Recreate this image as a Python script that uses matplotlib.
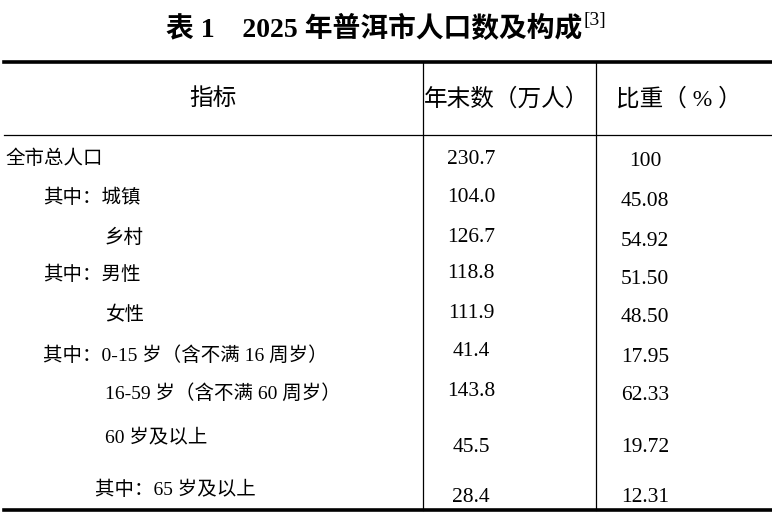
import matplotlib.pyplot as plt

plt.rcParams['font.family'] = ['Liberation Serif', 'Noto Sans CJK SC']

# table data
labels = ['全市总人口', '其中：城镇', '乡村', '其中：男性', '女性',
          '其中：0-15 岁（含不满 16 周岁）', '16-59 岁（含不满 60 周岁）',
          '60 岁及以上', '其中：65 岁及以上']
counts = ['230.7', '104.0', '126.7', '118.8', '111.9', '41.4', '143.8', '45.5', '28.4']
shares = ['100', '45.08', '54.92', '51.50', '48.50', '17.95', '62.33', '19.72', '12.31']
headers = ['指标', '年末数（万人）', '比重（ % ）']

# layout (pixels)
indent = [5, 43, 105, 43, 105, 43, 105, 105, 95]
label_y = [157, 196, 236, 273, 313, 353, 391, 436, 488]
count_y = [156, 194, 234, 271, 311, 349, 389, 444, 495]
share_y = [159, 198, 238, 276, 315, 355, 393, 445, 495]

fig = plt.figure(figsize=(7.72, 5.19), dpi=100)
ax = fig.add_axes([0, 0, 1, 1])
ax.set_xlim(0, 772)
ax.set_ylim(519, 0)
ax.axis('off')

# title with a superscript note mark
title = ax.text(374, 29, '表 1　2025 年普洱市人口数及构成', ha='center', va='center',
                fontsize=20, fontweight='bold')
fig.canvas.draw()
bb = title.get_window_extent().transformed(ax.transData.inverted())
ax.text(bb.x1 + 1, 21, '[3]', ha='left', va='center', fontsize=14)

# rules
ax.plot([4, 772], [62, 62], color='black', lw=2.6)
ax.plot([4, 772], [135, 135], color='black', lw=0.9)
ax.plot([4, 772], [510, 510], color='black', lw=2.6)
ax.plot([423, 423], [62, 510], color='black', lw=0.9)
ax.plot([596, 596], [62, 510], color='black', lw=0.9)

# headers
for x, h in zip([213, 507, 679], headers):
    ax.text(x, 99, h, ha='center', va='center', fontsize=17)

# body
for i in range(len(labels)):
    ax.text(indent[i], label_y[i] + 2, labels[i], ha='left', va='center', fontsize=14)
    ax.text(471, count_y[i] + 3, counts[i], ha='center', va='center', fontsize=15.5)
    ax.text(645, share_y[i] + 3, shares[i], ha='center', va='center', fontsize=15.5)

fig.savefig('out.png', dpi=100)
